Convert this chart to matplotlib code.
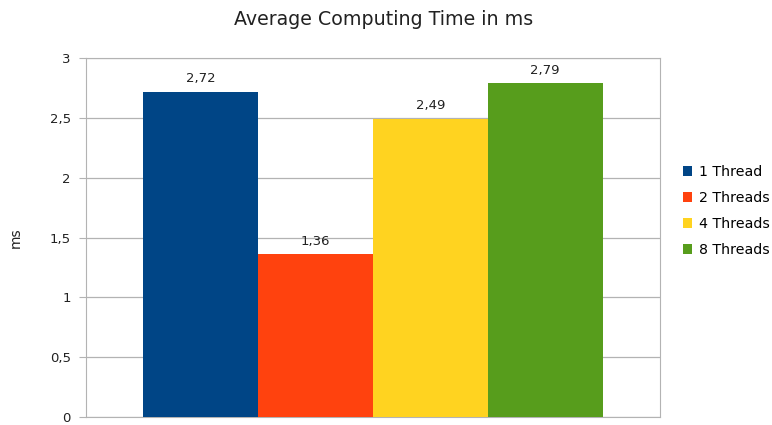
import matplotlib.pyplot as plt

plt.rcParams['font.family'] = ['DejaVu Sans']

# average computing time per thread count
threads = ['1 Thread', '2 Threads', '4 Threads', '8 Threads']
times_ms = [2.72, 1.36, 2.49, 2.79]
colors = ['#004586', '#ff420e', '#ffd320', '#579d1c']
yticks = [0, 0.5, 1, 1.5, 2, 2.5, 3]

fig = plt.figure(figsize=(7.72, 4.25), dpi=100)
ax = fig.add_axes([86 / 772, 1 - 417 / 425, 574 / 772, 359 / 425])

width = 0.2
for i, (name, val, col) in enumerate(zip(threads, times_ms, colors)):
    x = 0.2 + width * i
    ax.bar(x, val, width=width, color=col, label=name, zorder=3)
    ax.text(x, val + 0.055, f'{val:.2f}'.replace('.', ','), ha='center', va='bottom',
            fontsize=9.5, color='#222222')

ax.set_xlim(0, 1)
ax.set_ylim(0, 3)
ax.set_yticks(yticks)
ax.set_yticklabels([f'{t:g}'.replace('.', ',') for t in yticks], fontsize=9.5, color='#222222')
ax.set_xticks([])
ax.grid(axis='y', color='#b3b3b3', linewidth=0.9, zorder=0)
for s in ax.spines.values():
    s.set_color('#b3b3b3')
ax.tick_params(axis='y', length=5, color='#b3b3b3', pad=6)
ax.set_ylabel('ms', fontsize=10, color='#222222', labelpad=19)

fig.text(0.497, 0.953, 'Average Computing Time in ms', ha='center', va='center',
         fontsize=13.7, color='#222222')

leg = ax.legend(loc='center left', bbox_to_anchor=(1.017, 0.575), frameon=False,
                fontsize=10.2, handlelength=0.7, handleheight=0.7, handletextpad=0.45,
                labelspacing=0.85)

fig.savefig('out.png', dpi=100)
